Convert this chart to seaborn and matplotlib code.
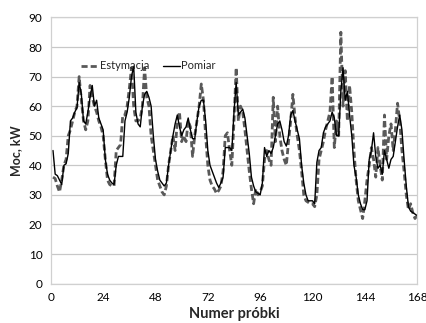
import numpy as np
import pandas as pd
import matplotlib
matplotlib.use("Agg")
import matplotlib.pyplot as plt
import seaborn as sns

hours = list(range(1, 169))
pomiar = [
    45, 37, 36.5, 35, 33.5, 40, 40.5, 44, 55, 56, 58, 59.5, 68, 64, 55, 54, 58, 63, 67, 60, 62, 56, 54, 52,
    42, 37, 35, 34, 33.5, 40, 43, 43, 43, 55, 58, 63, 70, 73.5, 58, 54, 53, 60, 64, 65, 63, 60, 50, 42,
    38, 35, 34, 33, 34, 40, 45, 50, 54, 57, 53, 50, 52, 53, 56, 52, 49, 49, 55, 60, 62, 62, 55, 45,
    40, 38, 36, 34, 32.5, 34, 36, 46, 46, 46, 45, 58, 68, 57, 58, 59, 56, 50, 44, 36, 33, 31, 30.5, 30,
    34, 46, 43, 45, 44, 46, 50, 54, 55, 52, 48, 46.5, 50, 57, 58.5, 55, 52, 49, 40, 34, 30, 28, 28, 28,
    27, 41, 45, 46, 51, 53, 54, 55, 58, 56, 50, 50, 65, 73, 62, 65, 57, 50, 40, 36, 30, 27, 25, 25,
    28, 42, 45, 51, 43, 39, 40, 37, 45, 42, 39, 42, 43, 48, 53, 57, 52, 42, 33, 26, 24.5, 24, 23.5, 23,
]
estymacja = [
    36, 35.5, 33, 31, 35, 40, 42, 50, 52, 55, 58, 60, 70, 62, 55, 52, 55, 67, 63, 60, 58, 55, 53, 50,
    42, 35, 33.5, 33, 33, 45, 46, 47, 57, 57, 60, 66, 73, 60, 55, 55, 56, 60, 73, 63, 60, 50, 45, 40,
    35, 33, 31, 30, 33, 40, 45, 50, 45, 55, 58, 48, 50, 48, 55, 53, 43, 50, 55, 60, 67.5, 62, 50, 40,
    35, 33, 32, 30.5, 31.5, 33, 38, 50, 51, 45, 40, 55, 73, 55, 60, 58, 52, 45, 38, 32, 27, 32, 30, 31,
    33, 42, 45, 42, 40, 63, 48, 60, 50, 45, 42, 40, 48, 55, 64, 56, 50, 45, 38, 30, 28, 27.5, 27, 27,
    26, 30, 42, 45, 48, 52, 55, 58, 70, 46, 55, 50, 85, 60, 72, 55, 67, 58, 45, 35, 28, 25, 22, 28,
    35, 40, 46, 42, 36, 46, 40, 35, 57, 42, 50, 54, 45, 52, 61, 55, 45, 38, 30, 25, 27, 24, 22, 23,
]
x_ticks = [0, 24, 48, 72, 96, 120, 144, 168]
y_ticks = [0, 10, 20, 30, 40, 50, 60, 70, 80, 90]

sns.set_theme(style="white")
plt.rcParams['font.family'] = ['Lato', 'DejaVu Sans']

fig = plt.figure(figsize=(4.27, 3.23), dpi=100)
ax = fig.add_axes([0.119, 0.122, 0.858, 0.824])

df = pd.DataFrame({"h": hours, "Estymacja": estymacja, "Pomiar": pomiar})
sns.lineplot(data=df, x="h", y="Estymacja", ax=ax, color="#595959", lw=2.0,
             label="Estymacja", dashes=False)
ax.lines[-1].set_dashes([2.2, 1.1])
sns.lineplot(data=df, x="h", y="Pomiar", ax=ax, color="black", lw=1.0, label="Pomiar")

ax.set_xlim(0, 168)
ax.set_ylim(0, 90)
ax.set_xticks(x_ticks)
ax.set_yticks(y_ticks)
ax.tick_params(axis='both', labelsize=8.5, colors="black", length=0, pad=6)
ax.yaxis.grid(True, color="#c8c8c8", lw=0.9)
ax.xaxis.grid(False)
for s in ax.spines.values():
    s.set_color("#d0d0d0")
    s.set_linewidth(0.9)
ax.set_xlabel("Numer próbki", fontsize=10.5, fontweight="bold", labelpad=3)
ax.set_ylabel("Moc, kW", fontsize=9, fontweight="bold", labelpad=5)

leg = ax.legend(loc="upper left", bbox_to_anchor=(0.07, 0.855), ncol=2, frameon=False,
                fontsize=8, handlelength=1.6, handletextpad=0.1, columnspacing=1.2,
                borderaxespad=0)
fig.savefig("out.png", dpi=100, facecolor="white")
